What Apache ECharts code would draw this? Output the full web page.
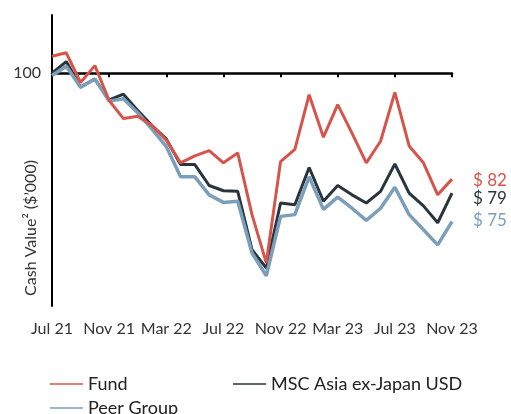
<!DOCTYPE html>
<html>
<head>
<meta charset="utf-8">
<script src="https://cdn.jsdelivr.net/npm/echarts@6/dist/echarts.min.js"></script>
<style>
html,body{margin:0;padding:0;background:#fff;}
#chart{width:511px;height:414px;}
</style>
</head>
<body>
<div id="chart"></div>
<script>
const categories = ['Jul 21','Aug 21','Sep 21','Oct 21','Nov 21','Dec 21','Jan 22','Feb 22','Mar 22','Apr 22','May 22','Jun 22','Jul 22','Aug 22','Sep 22','Oct 22','Nov 22','Dec 22','Jan 23','Feb 23','Mar 23','Apr 23','May 23','Jun 23','Jul 23','Aug 23','Sep 23','Oct 23','Nov 23'];
const fund = [102.9,103.5,98.4,101.3,95.3,92.2,92.6,91.0,88.5,84.6,85.8,86.7,84.6,86.3,75.7,67.4,84.8,86.9,96.3,89.0,94.6,89.7,84.6,88.3,96.7,87.5,84.6,79.1,81.8];
const msc = [100,102.0,97.6,99.0,95.4,96.4,93.6,91.0,88.7,84.3,84.3,80.7,79.8,79.7,69.7,66.5,77.7,77.4,83.8,78.0,80.7,79.1,77.7,79.7,84.4,79.4,77.2,74.3,79.4];
const peer = [99.6,101.2,97.6,99.0,95.2,95.6,93.2,90.4,87.4,82.2,82.2,79.1,77.8,78.0,69.1,65.2,75.4,75.7,82.2,76.6,78.7,76.8,74.7,76.8,80.4,75.7,73.1,70.5,74.5];
const seriesNames = ['Fund','MSC Asia ex-Japan USD','Peer Group'];
const endLabels = ['$ 82','$ 79','$ 75'];
const yTickLabels = [100];
const yName = 'Cash Value\u00B2 ($\u2019000)';

const FONT = 'Lato';
const colors = {fund:'#d6544a', msc:'#28353d', peer:'#7b9eb9'};

const chart = echarts.init(document.getElementById('chart'), null, {renderer:'canvas'});
const legendText = {fontSize:18, color:'#222', fontFamily:FONT, padding:[0,0,0,0]};
const legendBase = {icon:'rect', itemWidth:33, itemHeight:1.5, itemGap:0, padding:0, textStyle:legendText};
const option = {
  animation:false,
  textStyle:{fontFamily:FONT},
  grid:{left:52, right:59, top:15, height:291, containLabel:false},
  xAxis:[{
    type:'category', data:categories, boundaryGap:false, position:'bottom',
    axisLine:{show:false}, axisTick:{show:false},
    axisLabel:{interval:3, color:'#333', fontSize:16, fontFamily:FONT, margin:15}
  },{
    type:'category', data:categories, boundaryGap:false, position:'top', offset:-58.2,
    axisLine:{show:true, lineStyle:{color:'#000', width:2.5}},
    axisTick:{show:true, inside:true, interval:3, length:4, lineStyle:{color:'#000', width:2}},
    axisLabel:{show:false}
  }],
  yAxis:{
    type:'value', min:60, max:110, interval:10,
    axisLine:{show:true, lineStyle:{color:'#000', width:2}},
    axisTick:{show:false}, splitLine:{show:false},
    axisLabel:{color:'#333', fontSize:16, fontFamily:FONT, margin:11,
      formatter:v=> yTickLabels.includes(v) ? String(v) : ''}
  },
  graphic:[{
    type:'text', x:31, y:228, rotation:Math.PI/2,
    style:{text:yName, fill:'#333', font:'16px '+FONT, textAlign:'center', textVerticalAlign:'middle'}
  }],
  legend:[
    Object.assign({data:[seriesNames[0]], left:50, top:375}, legendBase),
    Object.assign({data:[seriesNames[1]], left:233, top:375}, legendBase),
    Object.assign({data:[seriesNames[2]], left:50, top:399}, legendBase)
  ],
  series:[
    {name:seriesNames[1], type:'line', data:msc, symbol:'none', color:colors.msc,
     lineStyle:{width:3, color:colors.msc},
     endLabel:{show:true, formatter:()=>endLabels[1], color:colors.msc, fontSize:17, fontFamily:FONT, distance:21, offset:[0,5]}},
    {name:seriesNames[2], type:'line', data:peer, symbol:'none', color:colors.peer,
     lineStyle:{width:3.5, color:colors.peer},
     endLabel:{show:true, formatter:()=>endLabels[2], color:colors.peer, fontSize:17, fontFamily:FONT, distance:21, offset:[0,-1]}},
    {name:seriesNames[0], type:'line', data:fund, symbol:'none', color:colors.fund,
     lineStyle:{width:3, color:colors.fund},
     endLabel:{show:true, formatter:()=>endLabels[0], color:colors.fund, fontSize:17, fontFamily:FONT, distance:21, offset:[0,1]}}
  ]
};
chart.setOption(option);
</script>
</body>
</html>
